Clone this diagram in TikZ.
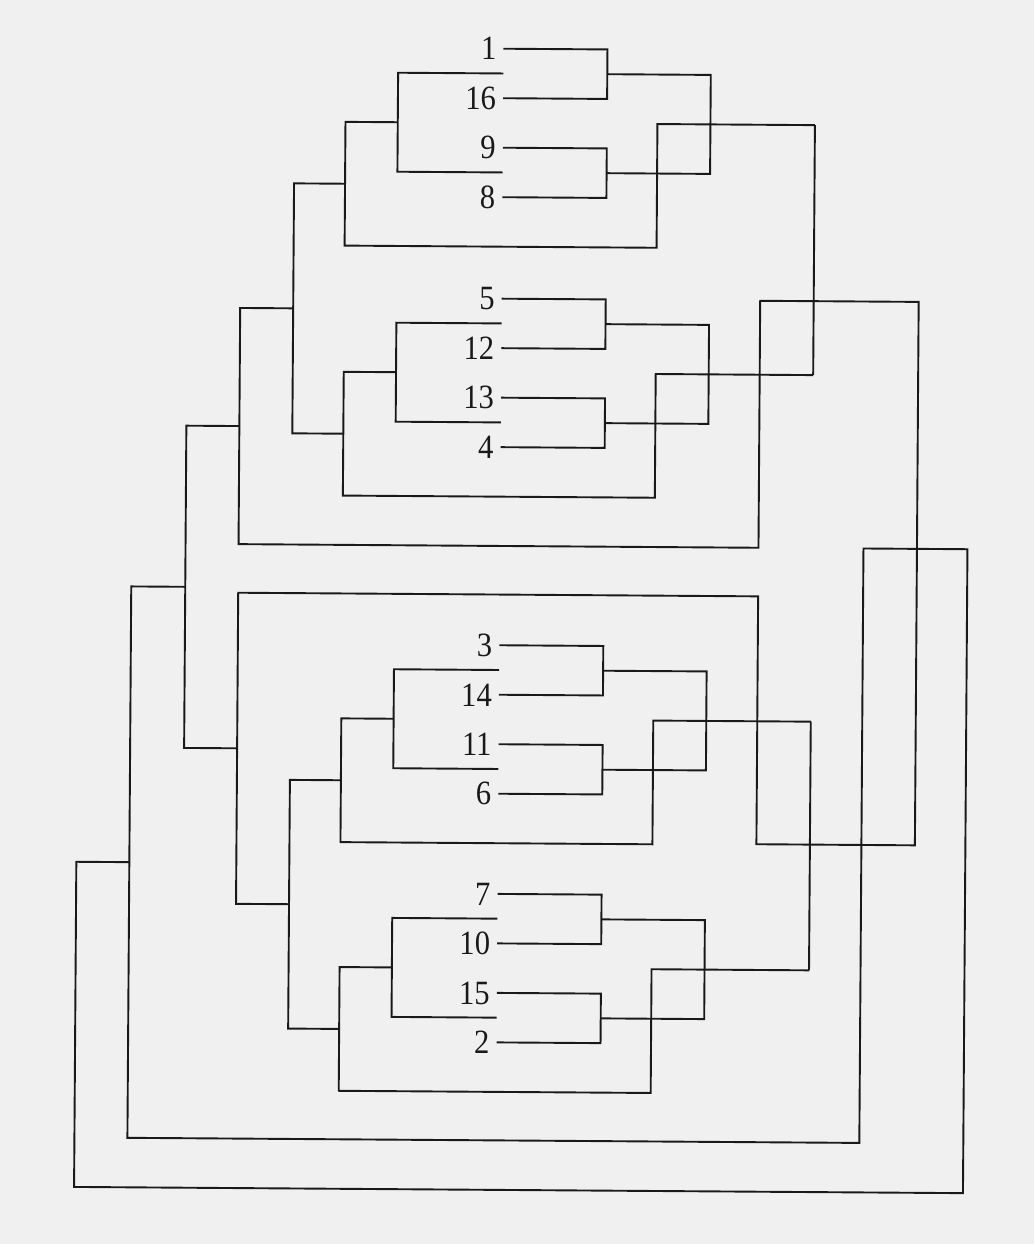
\documentclass[tikz,border=0pt]{standalone}
\usepackage{fontspec}
\setmainfont{Liberation Serif}
\newfontfamily\labfont{Liberation Serif}[FakeStretch=0.9]
\usetikzlibrary{calc}
\definecolor{paper}{RGB}{240,240,240}
\definecolor{ink}{RGB}{25,25,25}
\begin{document}
\begin{tikzpicture}[x=1pt,y=-1pt,
  wire/.style={draw=ink, line width=1.9pt, line join=miter},
  lab/.style={anchor=east, inner xsep=7pt, inner ysep=0pt, text=ink,
              font=\labfont\fontsize{34}{34}\selectfont}]
\fill[paper] (0,0) rectangle (1034,1244);
\useasboundingbox (0,0) rectangle (1034,1244);
\begin{scope}[rotate around={-0.4:(500,50)}]
% four quarters of the draw
\foreach \q/\y/\ua/\ub/\uc/\ud in {A/48.7/1/16/9/8, B/298.7/5/12/13/4, C/645.3/3/14/11/6, D/894/7/10/15/2} {
  \node[lab] (n\ua) at (503.5,\y) {\ua};
  \node[lab] (n\ub) at (503.5,\y+49.5) {\ub};
  \node[lab] (n\uc) at (503.5,\y+99) {\uc};
  \node[lab] (n\ud) at (503.5,\y+148.5) {\ud};
  \coordinate (\q-p1) at (607.5,\y+24.75);
  \coordinate (\q-p2) at (607.5,\y+123.75);
  \coordinate (\q-w)  at (711,\y+74.25);
  \coordinate (\q-l1) at (503.5,\y+24.75);
  \coordinate (\q-l2) at (503.5,\y+123.75);
  \coordinate (\q-lj) at (398.3,\y+74.25);
  \coordinate (\q-m)  at (346,\y+136.125);
  \coordinate (\q-b)  at (346,\y+198);
  \coordinate (\q-b2) at (658,\y+198);
  \coordinate (\q-c)  at (658,\y+74.25);
  \coordinate (\q-e)  at (815.5,\y+74.25);
  \draw[wire] (n\ua.east) -| (\q-p1) |- (n\ub.east);
  \draw[wire] (n\uc.east) -| (\q-p2) |- (n\ud.east);
  \draw[wire] (\q-p1) -| (\q-w) |- (\q-p2);
  \draw[wire] (\q-l1) -| (\q-lj) |- (\q-l2);
  \draw[wire] (\q-lj) -| (\q-b) -- (\q-b2) -- (\q-c) -- (\q-e);
}
% joins between quarters
\coordinate (AB-j) at (295,309.8);
\coordinate (CD-j) at (295,905.75);
\draw[wire] (A-m) -| (AB-j) |- (B-m);
\draw[wire] (C-m) -| (CD-j) |- (D-m);
\draw[wire] (A-e) -- (B-e);
\draw[wire] (C-e) -- (D-e);
% halves
\coordinate (h1) at (242,546);
\coordinate (h2) at (762,546);
\coordinate (h3) at (762,299);
\coordinate (h4) at (920.5,299);
\coordinate (h5) at (920.5,842.5);
\coordinate (h6) at (762,842.5);
\coordinate (h7) at (762,594.6);
\coordinate (h8) at (242,594.6);
\draw[wire] (AB-j) -| (h1) -- (h2) -- (h3) -- (h4) -- (h5) -- (h6) -- (h7) -- (h8) |- (CD-j);
% final
\coordinate (g1) at (242,427.9);
\coordinate (g2) at (242,750.2);
\coordinate (gj) at (189,589.05);
\draw[wire] (g1) -| (gj) |- (g2);
\coordinate (f1) at (135,1140.5);
\coordinate (f2) at (867,1140.5);
\coordinate (f3) at (867,546);
\coordinate (f4) at (971,546);
\coordinate (f5) at (971,1190);
\coordinate (f6) at (82,1190);
\coordinate (f7) at (82,864.8);
\coordinate (f8) at (135,864.8);
\draw[wire] (gj) -| (f1) -- (f2) -- (f3) -- (f4) -- (f5) -- (f6) -- (f7) -- (f8);
\end{scope}
\end{tikzpicture}
\end{document}
